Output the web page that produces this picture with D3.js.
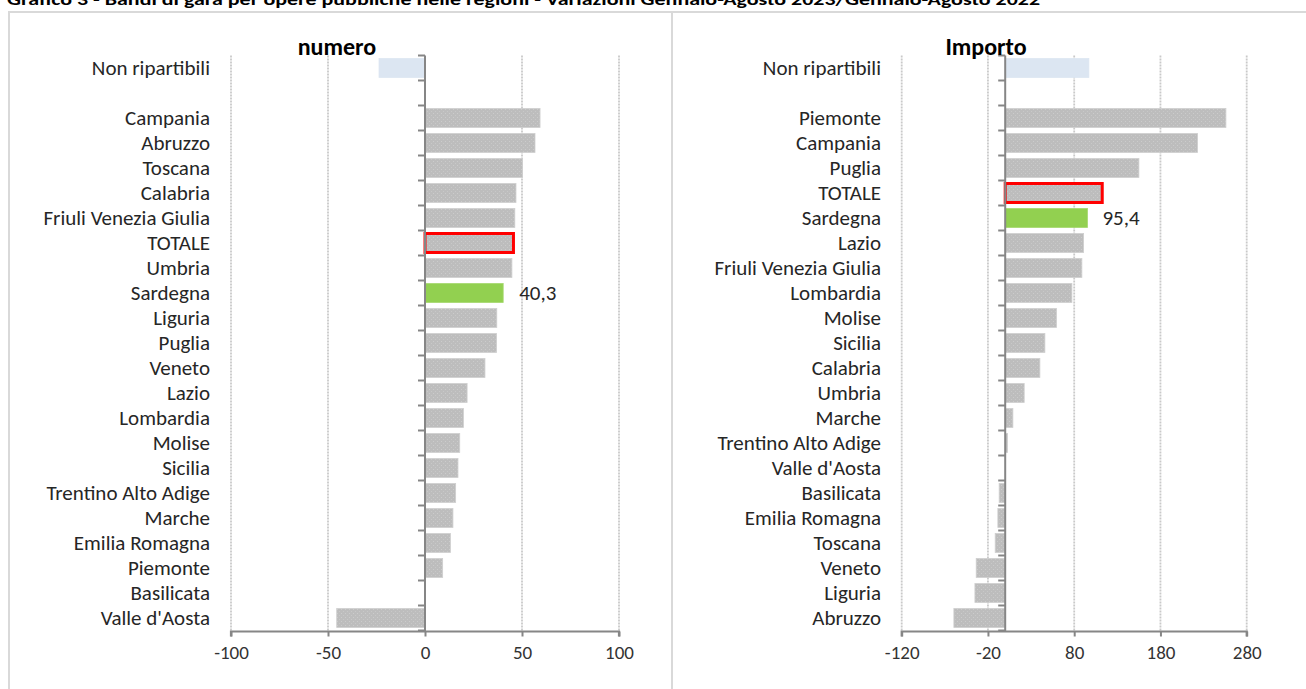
<!DOCTYPE html>
<html>
<head>
<meta charset="utf-8">
<script src="https://cdn.jsdelivr.net/npm/d3@7"></script>
<style>
  html, body { margin: 0; padding: 0; background: #fff; }
  svg { display: block; }
  text { font-family: Carlito, Calibri, Lato, "Open Sans", sans-serif; }
</style>
</head>
<body>
<svg id="chart" width="1306" height="689"></svg>
<script>
const titleText = "Grafico 3 - Bandi di gara   per opere pubbliche nelle regioni  - Variazioni Gennaio-Agosto 2023/Gennaio-Agosto 2022";

const categoriesNumero = ["Non ripartibili", "", "Campania", "Abruzzo", "Toscana", "Calabria", "Friuli Venezia Giulia", "TOTALE", "Umbria", "Sardegna", "Liguria", "Puglia", "Veneto", "Lazio", "Lombardia", "Molise", "Sicilia", "Trentino Alto Adige", "Marche", "Emilia Romagna", "Piemonte", "Basilicata", "Valle d'Aosta"];
const valuesNumero = [-23.7, null, 59.3, 56.7, 50.3, 46.9, 46.3, 45.6, 44.8, 40.3, 37.0, 36.9, 30.9, 21.7, 19.8, 17.9, 17.0, 15.8, 14.4, 13.1, 9.1, 0, -45.5];
const ticksNumero = [-100, -50, 0, 50, 100];

const categoriesImporto = ["Non ripartibili", "", "Piemonte", "Campania", "Puglia", "TOTALE", "Sardegna", "Lazio", "Friuli Venezia Giulia", "Lombardia", "Molise", "Sicilia", "Calabria", "Umbria", "Marche", "Trentino Alto Adige", "Valle d'Aosta", "Basilicata", "Emilia Romagna", "Toscana", "Veneto", "Liguria", "Abruzzo"];
const valuesImporto = [97.0, null, 255.9, 223.0, 155.0, 112.5, 95.4, 90.9, 88.9, 77.3, 59.5, 46.0, 40.2, 22.0, 8.9, 2.7, 0, -7.0, -8.5, -11.6, -33.6, -35.1, -59.5];
const ticksImporto = [-120, -20, 80, 180, 280];

const highlightLabel = "Sardegna";
const totalLabel = "TOTALE";
const unallocatedLabel = "Non ripartibili";

const svg = d3.select("#chart");

// pattern for gray bars
const defs = svg.append("defs");
const pat = defs.append("pattern").attr("id", "dots").attr("patternUnits", "userSpaceOnUse")
  .attr("width", 4).attr("height", 4);
pat.append("rect").attr("width", 4).attr("height", 4).attr("fill", "#bdbdbd");
pat.append("rect").attr("x", 1).attr("y", 1).attr("width", 1).attr("height", 1).attr("fill", "#cccccc");
pat.append("rect").attr("x", 3).attr("y", 3).attr("width", 1).attr("height", 1).attr("fill", "#c8c8c8");

// title (clipped at the top as in reference)
svg.append("text").attr("x", 7).attr("y", 5)
  .attr("font-size", 16).attr("font-weight", "bold").attr("fill", "#000")
  .attr("textLength", 1033).attr("lengthAdjust", "spacingAndGlyphs")
  .text(titleText);

// panel frames
svg.append("path").attr("d", "M9,689 L9,12 L1306,12").attr("fill", "none").attr("stroke", "#d9d9d9").attr("stroke-width", 2);
svg.append("line").attr("x1", 672).attr("x2", 672).attr("y1", 12).attr("y2", 689).attr("stroke", "#d9d9d9").attr("stroke-width", 2);

function panel(cfg) {
  const g = svg.append("g");
  const x = d3.scaleLinear().domain(cfg.domain).range(cfg.xrange);
  const y = d3.scaleBand().domain(cfg.categories).range([55.5, 630.5]).paddingInner(0.24).paddingOuter(0.12);
  const step = y.step();
  const top = 55.5, bottom = 631.5;

  // gridlines
  g.selectAll(".grid").data(cfg.ticks.filter(t => t !== 0)).join("line")
    .attr("x1", d => x(d)).attr("x2", d => x(d))
    .attr("y1", top).attr("y2", bottom)
    .attr("stroke", "#c9c9c9").attr("stroke-width", 1.8).attr("stroke-dasharray", "2,1");

  // bars
  const data = cfg.categories.map((c, i) => ({ c, v: cfg.values[i] })).filter(d => d.v !== null);
  const x0 = x(0);
  g.selectAll(".bar").data(data).join("rect")
    .attr("x", d => Math.min(x(d.v), x0))
    .attr("y", d => y(d.c))
    .attr("width", d => Math.abs(x(d.v) - x0))
    .attr("height", y.bandwidth())
    .attr("fill", d => d.c === highlightLabel ? "#92d050" : (d.c === unallocatedLabel ? "#dce6f2" : "url(#dots)"))
    .attr("stroke", d => d.c === totalLabel ? "#ff0000" : (d.c === highlightLabel ? "#a6d86e" : (d.c === unallocatedLabel ? "#dce6f2" : "#cfcfcf")))
    .attr("stroke-width", d => d.c === totalLabel ? 3 : 0.8);

  // y axis line at zero with ticks at band boundaries
  g.append("line").attr("x1", x0).attr("x2", x0).attr("y1", top).attr("y2", bottom)
    .attr("stroke", "#868686").attr("stroke-width", 2);
  const bounds = d3.range(cfg.categories.length + 1).map(i => top + i * step);
  g.selectAll(".ytick").data(bounds).join("line")
    .attr("x1", x0 - 7).attr("x2", x0).attr("y1", d => d).attr("y2", d => d)
    .attr("stroke", "#868686").attr("stroke-width", 2);

  // x axis
  const xAxis = d3.axisBottom(x).tickValues(cfg.ticks).tickSize(5).tickPadding(9).tickFormat(d => String(d));
  const ax = g.append("g").attr("transform", `translate(0,${bottom})`).call(xAxis);
  ax.select(".domain").attr("stroke", "#868686").attr("stroke-width", 2.2).attr("d", `M${cfg.xrange[0]},5V0H${cfg.xrange[1]}V5`);
  ax.selectAll(".tick line").attr("stroke", "#868686").attr("stroke-width", 2);
  ax.selectAll(".tick text").attr("font-size", 19).attr("fill", "#333").attr("font-family", "Carlito, Calibri, Lato, sans-serif");

  // category labels
  g.selectAll(".cat").data(cfg.categories.filter(c => c !== "")).join("text")
    .attr("x", cfg.labelX).attr("y", d => y(d) + y.bandwidth() / 2)
    .attr("dy", "0.35em").attr("text-anchor", "end")
    .attr("font-size", 21).attr("fill", "#262626")
    .text(d => d);

  // highlight value label
  const hv = cfg.values[cfg.categories.indexOf(highlightLabel)];
  g.append("text").attr("x", x(hv) + cfg.labelOffset).attr("y", y(highlightLabel) + y.bandwidth() / 2)
    .attr("dy", "0.35em").attr("font-size", 21).attr("fill", "#262626")
    .text(d3.format(".1f")(hv).replace(".", ","));

  // panel title
  svg.append("text").attr("x", cfg.titleX).attr("y", 55).attr("text-anchor", "middle")
    .attr("font-size", 24).attr("font-weight", "bold").attr("fill", "#000").text(cfg.title);
}

panel({
  title: "numero", titleX: 337,
  categories: categoriesNumero, values: valuesNumero, ticks: ticksNumero,
  domain: [-100, 100], xrange: [231, 619], labelX: 210, labelOffset: 16
});
panel({
  title: "Importo", titleX: 986,
  categories: categoriesImporto, values: valuesImporto, ticks: ticksImporto,
  domain: [-120, 280], xrange: [901.7, 1246.7], labelX: 881, labelOffset: 15
});
</script>
</body>
</html>
